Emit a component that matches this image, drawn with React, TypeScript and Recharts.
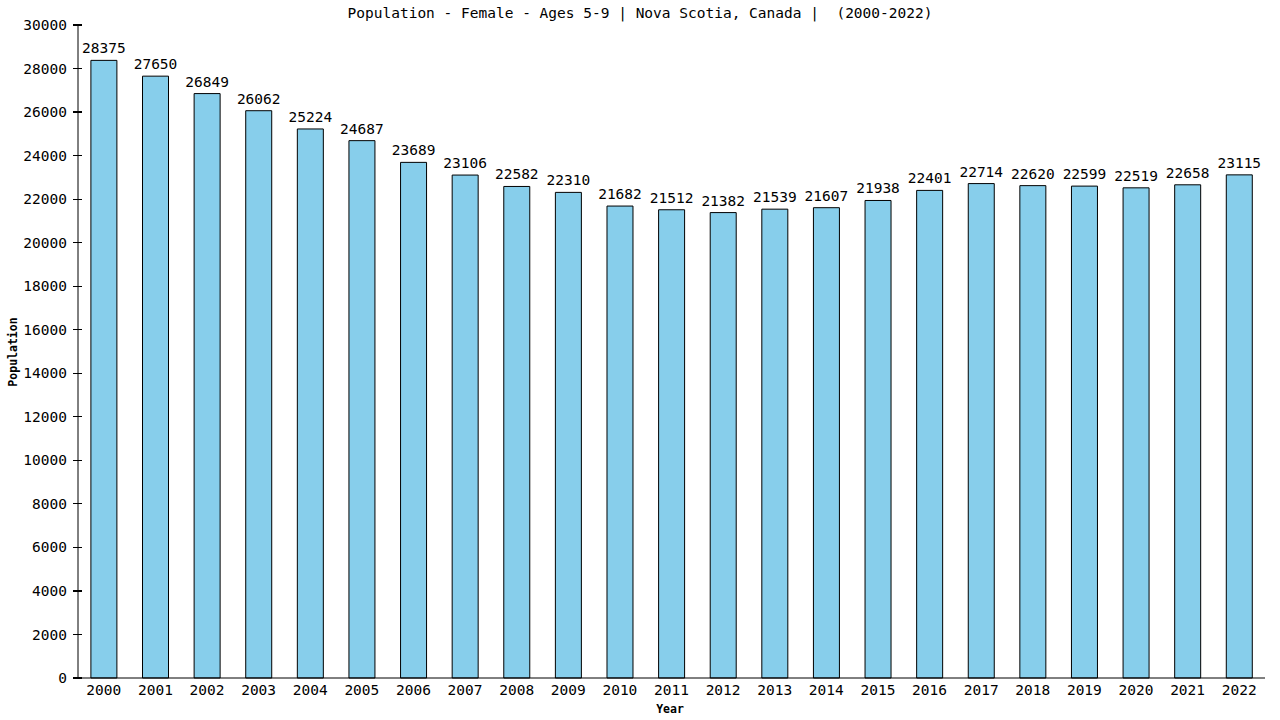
import React from 'react';
import { BarChart, Bar, XAxis, YAxis, LabelList } from 'recharts';

const years = [
  '2000', '2001', '2002', '2003', '2004', '2005', '2006', '2007', '2008', '2009', '2010', '2011',
  '2012', '2013', '2014', '2015', '2016', '2017', '2018', '2019', '2020', '2021', '2022',
];
const population = [
  28375, 27650, 26849, 26062, 25224, 24687, 23689, 23106, 22582, 22310, 21682, 21512,
  21382, 21539, 21607, 21938, 22401, 22714, 22620, 22599, 22519, 22658, 23115,
];
const yTicks = [0, 2000, 4000, 6000, 8000, 10000, 12000, 14000, 16000, 18000, 20000, 22000, 24000, 26000, 28000, 30000];

const data = years.map((year, i) => ({ year, value: population[i] }));

const FONT = '"DejaVu Sans Mono", monospace';

function YTick({ x, y, payload }: { x?: number; y?: number; payload?: { value: number } }) {
  const px = x ?? 0;
  const py = y ?? 0;
  return (
    <g>
      <path d={`M${px - 5},${py}H${px + 4}`} stroke="#000" strokeWidth={1.2} fill="none" shapeRendering="crispEdges" />
      <text x={px - 11} y={py} dy="0.35em" textAnchor="end" fontFamily={FONT} fontSize={14.5} fill="#000">
        {payload?.value}
      </text>
    </g>
  );
}

function XTick({ x, y, payload }: { x?: number; y?: number; payload?: { value: string } }) {
  return (
    <text x={x} y={(y ?? 0) + 12} dy="0.35em" textAnchor="middle" fontFamily={FONT} fontSize={14.5} fill="#000">
      {payload?.value}
    </text>
  );
}

export default function App() {
  return (
    <div style={{ position: 'absolute', left: 0, top: 0, width: 1280, height: 720, background: '#fff' }}>
      <div style={{ position: 'absolute', left: 0, top: 4, width: 1280, textAlign: 'center', fontFamily: FONT, fontSize: 14.5, lineHeight: '18px' }}>
        Population - Female - Ages 5-9 | Nova Scotia, Canada |&nbsp; (2000-2022)
      </div>
      <div style={{ position: 'absolute', left: 620, top: 702, width: 100, textAlign: 'center', fontFamily: FONT, fontSize: 11.5, fontWeight: 'bold', lineHeight: '14px' }}>
        Year
      </div>
      <div style={{ position: 'absolute', left: 13, top: 352, width: 0, height: 0 }}>
        <div style={{ position: 'absolute', left: -50, top: -7, width: 100, textAlign: 'center', transform: 'rotate(-90deg)', fontFamily: FONT, fontSize: 11.5, fontWeight: 'bold', lineHeight: '14px' }}>
          Population
        </div>
      </div>
      <BarChart width={1280} height={720} data={data} margin={{ top: 25, right: 15, bottom: 0, left: 0 }} barCategoryGap="25%">
        <XAxis dataKey="year" height={42} tickLine={false} tickSize={0} tickMargin={0} axisLine={{ stroke: '#000' }} tick={<XTick />} interval={0} />
        <YAxis yAxisId="l" width={78} domain={[0, 30000]} ticks={yTicks} tickLine={false} tickSize={0} tickMargin={0} axisLine={{ stroke: '#000' }} tick={<YTick />} interval={0} />
        <YAxis yAxisId="r" orientation="right" width={0} domain={[0, 30000]} tick={false} tickLine={false} axisLine={{ stroke: '#000' }} />
        <Bar yAxisId="l" dataKey="value" fill="#87CEEB" stroke="#000" strokeWidth={1} isAnimationActive={false}>
          <LabelList dataKey="value" position="top" offset={7} fontFamily={FONT} fontSize={14.5} fill="#000" />
        </Bar>
      </BarChart>
    </div>
  );
}
